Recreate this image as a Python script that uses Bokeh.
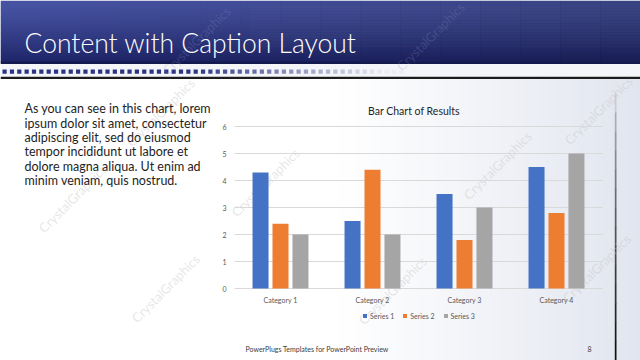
from bokeh.plotting import figure
from bokeh.models import ColumnDataSource, Range1d, Legend, LegendItem
from bokeh.core.properties import value
from bokeh.embed import file_html
from bokeh.resources import INLINE

# ---------------- data ----------------
categories = ["Category 1", "Category 2", "Category 3", "Category 4"]
series_names = ["Series 1", "Series 2", "Series 3"]
series1 = [4.3, 2.5, 3.5, 4.5]
series2 = [2.4, 4.4, 1.8, 2.8]
series3 = [2.0, 2.0, 3.0, 5.0]
y_ticks = [0, 1, 2, 3, 4, 5, 6]
y_tick_labels = ["0", "1", "2", "3", "4", "5", "6"]
series_colors = ["#4472c4", "#ed7d31", "#a5a5a5"]

chart_title = "Bar Chart of Results"
slide_title = "Content with Caption Layout"
body_lines = ["As you can see in this chart, lorem",
              "ipsum dolor sit amet, consectetur",
              "adipiscing elit, sed do eiusmod",
              "tempor incididunt ut labore et",
              "dolore magna aliqua. Ut enim ad",
              "minim veniam, quis nostrud."]
footer_text = "PowerPlugs Templates for PowerPoint  Preview"
page_number = "8"
watermark = "CrystalGraphics"

# ---------------- layout constants (slide pixels, y down) ----------------
W, H = 640, 360
L, R, T, B = 234, 602, 126, 288          # chart plot area
FONT = value("Lato")
ymax = y_ticks[-1]
band = (R - L) / len(categories)          # px per category
unit = (B - T) / ymax                     # px per value unit

p = figure(width=W, height=H, output_backend="svg", toolbar_location=None,
           x_range=Range1d(0, W), y_range=Range1d(H, 0),
           x_axis_type=None, y_axis_type=None, min_border=0)
p.xgrid.visible = False
p.ygrid.visible = False
p.outline_line_color = None
p.border_fill_color = "white"
p.background_fill_color = "white"
# chart scales: category index and value, mapped onto the plot area
p.extra_x_ranges = {"cat": Range1d(-L / band, (W - L) / band)}
p.extra_y_ranges = {"val": Range1d(-(H - B) / unit, B / unit)}


def lerp_hex(c0, c1, t):
    a = [int(c0[i:i + 2], 16) for i in (1, 3, 5)]
    b = [int(c1[i:i + 2], 16) for i in (1, 3, 5)]
    return "#" + "".join("%02x" % round(a[k] + (b[k] - a[k]) * t) for k in range(3))


def quads(l, r, t, b, colors, alpha=1.0):
    p.quad(left=l, right=r, top=t, bottom=b, fill_color=colors, fill_alpha=alpha, line_color=None)


# ---------------- slide background ----------------
edges = list(range(330, 641, 8)) + [640]
gl, gr, gc = [], [], []
for i in range(len(edges) - 1):
    x0, x1 = edges[i], edges[i + 1]
    if x1 <= x0:
        continue
    t = ((x0 + x1) / 2 - 330) / (W - 330)
    gl.append(x0); gr.append(x1 + 0.5)
    gc.append(lerp_hex("#ffffff", "#e1e5ef", min(1, t) ** 1.1))
quads(gl, gr, [78] * len(gl), [H] * len(gl), gc)

# header band
nb = 31
hl, hr, ht, hb, hc = [], [], [], [], []
for i in range(nb):
    hl.append(0); hr.append(W)
    ht.append(62 * i / nb); hb.append(62 * (i + 1) / nb + 0.4)
    hc.append(lerp_hex("#4754a3", "#1f2569", (i / (nb - 1)) ** 1.3))
quads(hl, hr, ht, hb, hc)
ns = 16
p.quad(left=[W * i / ns for i in range(ns)], right=[W * (i + 1) / ns + 0.4 for i in range(ns)],
       top=[0] * ns, bottom=[62] * ns, fill_color="#000000",
       fill_alpha=[0.2 * i / (ns - 1) for i in range(ns)], line_color=None)
# faint horizontal stripes in the header
p.quad(left=[250] * 14, right=[W] * 14, top=[6 + 3 * i for i in range(14)],
       bottom=[7 + 3 * i for i in range(14)], fill_color="#ffffff", fill_alpha=0.035, line_color=None)
quads([0], [W], [61], [63.5], ["#151a4e"])
quads([0], [W], [63.5], [76], ["#f4f5f9"])
# dotted strip
sql, sqa = [], []
xq = 2.0
while xq < 400:
    sql.append(xq)
    sqa.append(1.0 if xq < 190 else max(0.04, 1 - (xq - 190) / 200))
    xq += 7.35
p.quad(left=sql, right=[x + 4.2 for x in sql], top=[69] * len(sql), bottom=[73.2] * len(sql),
       fill_color="#2b3382", fill_alpha=sqa, line_color=None)
quads([0], [W], [76.2], [78.6], ["#1c1c1c"])
# right vertical line
nv = 14
vt = [93 + (H - 93) * i / nv for i in range(nv)]
vb = [93 + (H - 93) * (i + 1) / nv + 0.4 for i in range(nv)]
quads([614.3] * nv, [616] * nv, vt, vb,
      [lerp_hex("#c9ccd6", "#111111", min(1, (i / (nv - 1)) ** 0.7)) for i in range(nv)])

# watermarks (light on white, very faint on the header)
wm = [(72, 198), (165, 288), (160, 112), (265, 182), (497, 165), (392, 290), (596, 268),
      (598, 110)]
p.text(x=[w[0] for w in wm], y=[w[1] for w in wm], text=[watermark] * len(wm),
       angle=45, angle_units="deg", text_font=FONT, text_font_size="13px",
       text_color="#c4c4c4", text_alpha=0.42, text_align="center", text_baseline="middle")
wh = [(196, 40), (430, 36)]
p.text(x=[w[0] for w in wh], y=[w[1] for w in wh], text=[watermark] * len(wh),
       angle=45, angle_units="deg", text_font=FONT, text_font_size="13px",
       text_color="#8a90c0", text_alpha=0.25, text_align="center", text_baseline="middle")

# ---------------- chart ----------------
xi = [i + 0.5 for i in range(len(categories))]
series = [series1, series2, series3]

# gridlines
p.segment(x0=[0] * len(y_ticks), x1=[len(categories)] * len(y_ticks), y0=y_ticks, y1=y_ticks,
          line_color="#d9d9d9", line_width=1, x_range_name="cat", y_range_name="val")

bar_w = 0.174
offsets = [-0.217, 0.0, 0.217]
items = []
for name, vals, off, colr in zip(series_names, series, offsets, series_colors):
    src = ColumnDataSource(dict(x=[v + off for v in xi], top=vals, cat=categories))
    r = p.vbar(x="x", top="top", bottom=0, width=bar_w, source=src, fill_color=colr,
               line_color=None, x_range_name="cat", y_range_name="val")
    items.append(LegendItem(label=name, renderers=[r]))

# y tick labels
p.text(x=[0] * len(y_ticks), y=y_ticks, text=y_tick_labels, x_offset=-8,
       text_font=FONT, text_font_size="7px", text_color="#595959",
       text_align="right", text_baseline="middle", x_range_name="cat", y_range_name="val")
# category labels
p.text(x=xi, y=[0] * len(xi), text=categories, y_offset=11,
       text_font=FONT, text_font_size="7px", text_color="#595959",
       text_align="center", text_baseline="middle", x_range_name="cat", y_range_name="val")

legend = Legend(items=items, orientation="horizontal", location=(362, H - 320),
                glyph_width=5, glyph_height=5, label_standoff=3, spacing=8, padding=0, margin=0,
                label_height=9, label_text_font="Lato", label_text_font_size="7px",
                label_text_color="#595959", border_line_color=None, background_fill_alpha=0)
p.add_layout(legend)

# ---------------- texts ----------------
p.text(x=[24], y=[42], text=[slide_title], text_font=value("Lato Light"), text_font_size="26.5px",
       text_color="white", text_align="left", text_baseline="alphabetic")
p.text(x=[413.5], y=[110], text=[chart_title], text_font=FONT, text_font_size="10.5px",
       text_color="#262626", text_align="center", text_baseline="middle")
p.text(x=[24] * len(body_lines), y=[108.3 + 14.35 * i for i in range(len(body_lines))],
       text=body_lines, text_font=FONT, text_font_size="12.5px", text_color="#1e1e1e",
       text_align="left", text_baseline="middle")
p.text(x=[245], y=[348], text=[footer_text], text_font=FONT, text_font_size="7px",
       text_color="#404040", text_align="left", text_baseline="middle")
p.text(x=[589], y=[348], text=[page_number], text_font=FONT, text_font_size="7px",
       text_color="#404040", text_align="center", text_baseline="middle")

open("out.html", "w").write(file_html(p, INLINE))
